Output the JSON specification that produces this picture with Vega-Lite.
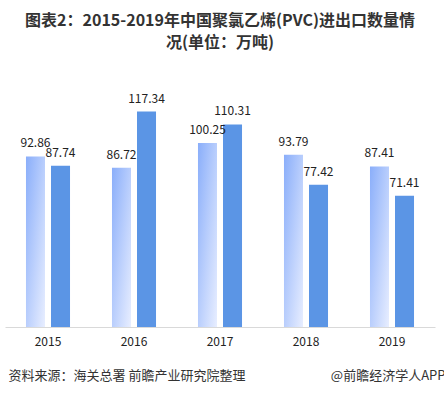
{
  "$schema": "https://vega.github.io/schema/vega-lite/v6.json",
  "width": 430,
  "height": 256,
  "autosize": "none",
  "padding": {"left": 5, "top": 71, "right": 9, "bottom": 68},
  "background": "white",
  "title": {
    "text": ["图表2：2015-2019年中国聚氯乙烯(PVC)进出口数量情", "况(单位：万吨)"],
    "anchor": "middle",
    "frame": "group",
    "fontSize": 16,
    "fontWeight": "bold",
    "color": "#333333",
    "font": "Noto Sans CJK SC",
    "lineHeight": 22,
    "offset": 20
  },
  "data": {
    "values": [
      {"year": "2015", "series": "进口", "value": 92.86},
      {"year": "2015", "series": "出口", "value": 87.74},
      {"year": "2016", "series": "进口", "value": 86.72},
      {"year": "2016", "series": "出口", "value": 117.34},
      {"year": "2017", "series": "进口", "value": 100.25},
      {"year": "2017", "series": "出口", "value": 110.31},
      {"year": "2018", "series": "进口", "value": 93.79},
      {"year": "2018", "series": "出口", "value": 77.42},
      {"year": "2019", "series": "进口", "value": 87.41},
      {"year": "2019", "series": "出口", "value": 71.41}
    ]
  },
  "encoding": {
    "x": {
      "field": "year",
      "type": "nominal",
      "scale": {"paddingInner": 0.488, "paddingOuter": 0.244},
      "axis": {
        "labelAngle": 0,
        "labelFont": "Noto Sans CJK SC",
        "labelFontSize": 12,
        "labelColor": "#222222",
        "labelPadding": 9,
        "ticks": false,
        "domainColor": "#d9d9d9",
        "domainWidth": 1,
        "title": "资料来源：海关总署 前瞻产业研究院整理",
        "titleFont": "Noto Sans CJK SC",
        "titleFontSize": 13,
        "titleFontWeight": "normal",
        "titleColor": "#333333",
        "titleAnchor": "start",
        "titleAlign": "left",
        "titleBaseline": "alphabetic",
        "titleX": 3,
        "titleY": 52
      }
    },
    "xOffset": {
      "field": "series",
      "type": "nominal",
      "scale": {"domain": ["进口", "出口"], "paddingInner": 0.24, "paddingOuter": 0}
    },
    "y": {
      "field": "value",
      "type": "quantitative",
      "scale": {"domain": [0, 139.4]},
      "axis": {
        "orient": "right",
        "labels": false,
        "ticks": false,
        "domain": false,
        "grid": false,
        "title": "@前瞻经济学人APP",
        "titleFont": "Noto Sans CJK SC",
        "titleFontSize": 13,
        "titleFontWeight": "normal",
        "titleColor": "#333333",
        "titleAngle": 0,
        "titleAlign": "right",
        "titleBaseline": "alphabetic",
        "titleX": 10,
        "titleY": 308
      }
    }
  },
  "layer": [
    {
      "transform": [{"filter": "datum.series === '进口'"}],
      "mark": {
        "type": "bar",
        "color": {
          "gradient": "linear",
          "x1": 0, "y1": 0, "x2": 1, "y2": 1,
          "stops": [
            {"offset": 0, "color": "#8aaefa"},
            {"offset": 1, "color": "#e8eeff"}
          ]
        }
      }
    },
    {
      "transform": [{"filter": "datum.series === '出口'"}],
      "mark": {"type": "bar", "color": "#5b95e5"}
    },
    {
      "mark": {
        "type": "text",
        "baseline": "bottom",
        "dy": -6,
        "font": "Noto Sans CJK SC",
        "fontSize": 12,
        "color": "#222222"
      },
      "encoding": {"text": {"field": "value", "type": "quantitative", "format": ".2f"}}
    }
  ],
  "config": {"view": {"stroke": null}}
}
